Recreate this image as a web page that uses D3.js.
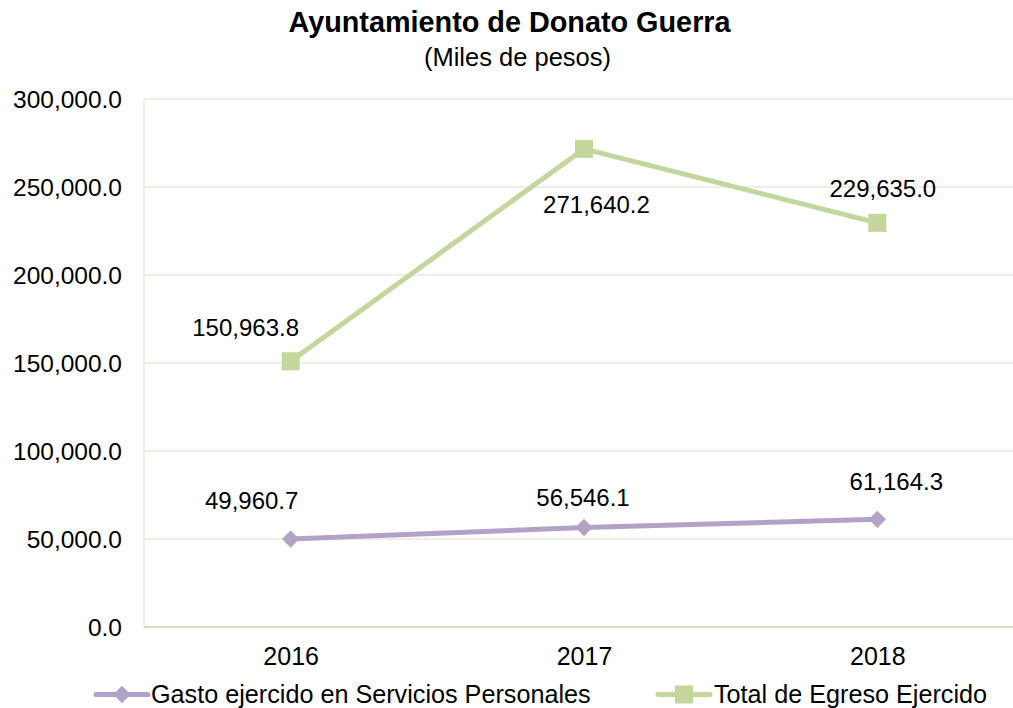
<!DOCTYPE html>
<html>
<head>
<meta charset="utf-8">
<script src="https://cdn.jsdelivr.net/npm/d3@7/dist/d3.min.js"></script>
<style>
  html, body { margin: 0; padding: 0; background: #ffffff; }
  svg { display: block; font-family: "Liberation Sans", Arial, sans-serif; }
</style>
</head>
<body>
<svg id="chart" width="1013" height="708"></svg>
<script>
// ---- data ----
const categories = ["2016", "2017", "2018"];
const gastoServiciosPersonales = [49960.7, 56546.1, 61164.3];
const totalEgresoEjercido = [150963.8, 271640.2, 229635.0];
const yTicks = [0, 50000, 100000, 150000, 200000, 250000, 300000];
const seriesNames = ["Gasto ejercido en Servicios Personales", "Total de Egreso Ejercido"];
const titleText = "Ayuntamiento de Donato Guerra";
const subtitleText = "(Miles de pesos)";

// ---- layout ----
const svg = d3.select("#chart");
const plot = { left: 144, right: 1024, top: 99, bottom: 627 };
const colors = { gasto: "#b3a2c7", total: "#c3d69b", grid: "#ebeadf", axis: "#d9d9c9" };

const x = d3.scalePoint().domain(categories).range([plot.left, plot.right]).padding(0.5);
const y = d3.scaleLinear().domain([0, 300000]).range([plot.bottom, plot.top]);
const fmt = d3.format(",.1f");

// gridlines
svg.append("g").selectAll("line").data(yTicks.filter(d => d > 0)).join("line")
  .attr("x1", plot.left).attr("x2", plot.right)
  .attr("y1", d => y(d)).attr("y2", d => y(d))
  .attr("stroke", colors.grid).attr("stroke-width", 1.3);

// left axis line
svg.append("line").attr("x1", plot.left).attr("x2", plot.left)
  .attr("y1", plot.top).attr("y2", plot.bottom)
  .attr("stroke", colors.grid).attr("stroke-width", 1.5);

// y axis tick labels
const yAxis = d3.axisLeft(y).tickValues(yTicks).tickFormat(fmt).tickSize(0).tickPadding(0);
const yg = svg.append("g").attr("transform", `translate(122,0)`).call(yAxis);
yg.select(".domain").remove();
yg.selectAll("text").attr("font-size", 24.5).attr("fill", "#000")
  .attr("font-family", "Liberation Sans, Arial, sans-serif")
  .attr("dy", 8.5).attr("text-anchor", "end");

// x axis
const xAxis = d3.axisBottom(x).tickSize(0).tickPadding(0);
const xg = svg.append("g").attr("transform", `translate(0,${plot.bottom})`).call(xAxis);
xg.select(".domain").attr("stroke", colors.axis).attr("stroke-width", 2)
  .attr("d", `M${plot.left},0H${plot.right}`);
xg.selectAll("text").attr("font-size", 25).attr("fill", "#000")
  .attr("font-family", "Liberation Sans, Arial, sans-serif")
  .attr("y", 38).attr("dy", 0);

// series
const series = [
  { key: "gasto", name: seriesNames[0], values: gastoServiciosPersonales, color: colors.gasto, marker: "diamond" },
  { key: "total", name: seriesNames[1], values: totalEgresoEjercido, color: colors.total, marker: "square" }
];
const labelOffsets = {
  gasto: [[-39, -30], [-1, -21], [19, -29]],
  total: [[-45, -25.5], [12.5, 64.5], [5.5, -26]]
};
const line = d3.line().x((d, i) => x(categories[i])).y(d => y(d));
const squareSize = 18;

series.forEach(s => {
  svg.append("path").datum(s.values).attr("d", line)
    .attr("fill", "none").attr("stroke", s.color).attr("stroke-width", 5)
    .attr("stroke-linejoin", "round");
  const g = svg.append("g");
  s.values.forEach((v, i) => {
    const cx = x(categories[i]), cy = y(v);
    if (s.marker === "square") {
      g.append("rect").attr("x", cx - squareSize / 2).attr("y", cy - squareSize / 2)
        .attr("width", squareSize).attr("height", squareSize).attr("fill", s.color);
    } else {
      g.append("path").attr("d", d3.symbol().type(d3.symbolSquare).size(150)())
        .attr("transform", `translate(${cx},${cy}) rotate(45)`).attr("fill", s.color);
    }
    const off = labelOffsets[s.key][i];
    svg.append("text").attr("x", cx + off[0]).attr("y", cy + off[1])
      .attr("text-anchor", "middle").attr("font-size", 24).attr("fill", "#000")
      .text(fmt(v));
  });
});

// title
svg.append("text").attr("x", 509.5).attr("y", 31.5).attr("text-anchor", "middle")
  .attr("font-size", 28.8).attr("font-weight", "bold").attr("fill", "#000").text(titleText);
svg.append("text").attr("x", 517.5).attr("y", 65.5).attr("text-anchor", "middle")
  .attr("font-size", 25.5).attr("fill", "#000").text(subtitleText);

// legend
const legendItems = [
  { s: series[0], x0: 96, x1: 148, tx: 151 },
  { s: series[1], x0: 658, x1: 710, tx: 714 }
];
const ly = 694.5;
legendItems.forEach(li => {
  svg.append("line").attr("x1", li.x0).attr("x2", li.x1).attr("y1", ly).attr("y2", ly)
    .attr("stroke", li.s.color).attr("stroke-width", 5).attr("stroke-linecap", "round");
  const mx = (li.x0 + li.x1) / 2;
  if (li.s.marker === "square") {
    svg.append("rect").attr("x", mx - squareSize / 2).attr("y", ly - squareSize / 2)
      .attr("width", squareSize).attr("height", squareSize).attr("fill", li.s.color);
  } else {
    svg.append("path").attr("d", d3.symbol().type(d3.symbolSquare).size(150)())
      .attr("transform", `translate(${mx},${ly}) rotate(45)`).attr("fill", li.s.color);
  }
  svg.append("text").attr("x", li.tx).attr("y", ly + 8.5).attr("font-size", 25.2)
    .attr("fill", "#000").text(li.s.name);
});
</script>
</body>
</html>
